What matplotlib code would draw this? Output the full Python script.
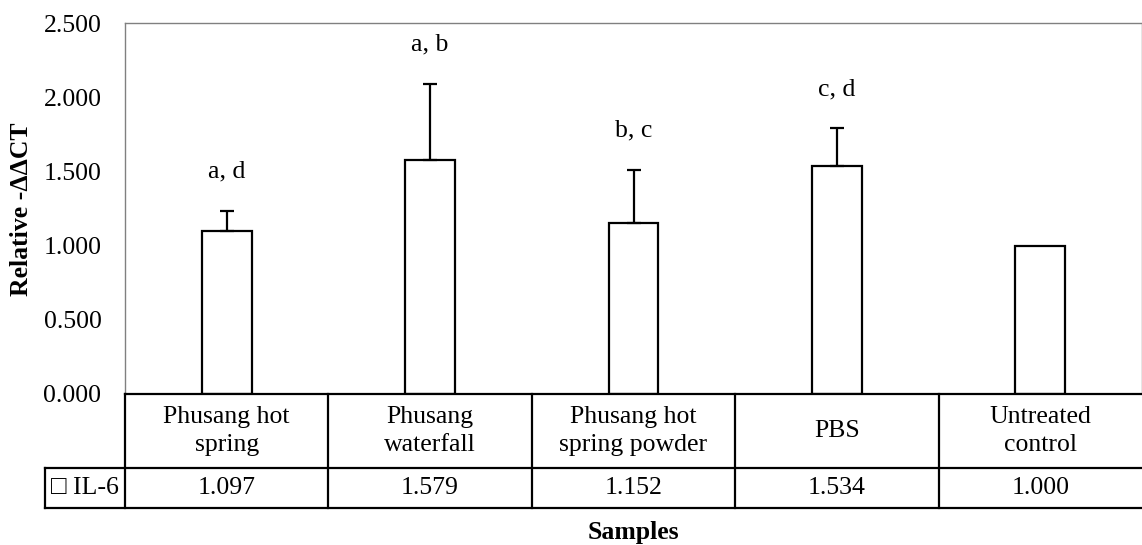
import numpy as np
import matplotlib.pyplot as plt

# data
samples = ['Phusang hot\nspring', 'Phusang\nwaterfall', 'Phusang hot\nspring powder',
           'PBS', 'Untreated\ncontrol']
il6 = [1.097, 1.579, 1.152, 1.534, 1.000]
il6_err = [0.136, 0.510, 0.357, 0.256, 0.0]
letters = ['a, d', 'a, b', 'b, c', 'c, d', '']
series_name = 'IL-6'

plt.rcParams['font.family'] = ['Liberation Serif', 'DejaVu Serif']
FS = 18.5

W, H = 1142, 545
fig = plt.figure(figsize=(W / 100, H / 100), dpi=100)


def px_axes(x0, y0, x1, y1):
    # pixel box (top-left origin) -> figure axes
    return fig.add_axes([x0 / W, 1 - y1 / H, (x1 - x0) / W, (y1 - y0) / H])


left, right, top, zero = 125, 1142, 23, 394
ax = px_axes(left, top, right, zero)
n = len(samples)
x = np.arange(n) + 0.5
ax.bar(x, il6, width=0.245, color='white', edgecolor='black', linewidth=1.6, zorder=2)
for xi, v, e in zip(x, il6, il6_err):
    if e > 0:
        ax.errorbar(xi, v, yerr=[[0], [e]], fmt='none', ecolor='black',
                    elinewidth=1.6, capsize=5, capthick=1.6, zorder=3)
for xi, v, e, t in zip(x, il6, il6_err, letters):
    if t:
        ax.text(xi, v + e + 0.265, t, ha='center', va='center', fontsize=FS)

ax.set_xlim(0, n)
ax.set_ylim(0, 2.5)
ax.set_yticks(np.arange(0, 2.51, 0.5))
ax.set_yticklabels(['%.3f' % t for t in np.arange(0, 2.51, 0.5)], fontsize=FS)
ax.tick_params(axis='y', length=0, pad=17)
ax.set_xticks([])
for s in ax.spines.values():
    s.set_color('#808080')
    s.set_linewidth(1.0)
ax.spines['bottom'].set_visible(False)
ax.set_ylabel('Relative -ΔΔCT', fontsize=FS, fontweight='bold', va='center')
ax.yaxis.set_label_coords((22 - left) / (right - left), (zero - 209) / (zero - top))

# data table under the plot
tleft, tbot, thead = 45, 508, 468
tab = px_axes(tleft, zero, right, tbot)
unit = (right - left) / n
x_start = -(left - tleft) / unit
tab.set_xlim(x_start, n)
tab.set_ylim(0, 1)
tab.axis('off')
row_split = (tbot - thead) / (tbot - zero)
lw = 1.6
kw = dict(color='black', linewidth=lw, clip_on=False, solid_capstyle='projecting')
tab.plot([0, n], [1, 1], **kw)
tab.plot([x_start, n], [row_split, row_split], **kw)
tab.plot([x_start, n], [0, 0], **kw)
tab.plot([x_start, x_start], [0, row_split], **kw)
for i in range(n):
    tab.plot([i, i], [0, 1], **kw)
for i, (name, v) in enumerate(zip(samples, il6)):
    tab.text(i + 0.5, (1 + row_split) / 2, name, ha='center', va='center',
             fontsize=FS, linespacing=1.4)
    tab.text(i + 0.5, row_split / 2, '%.3f' % v, ha='center', va='center', fontsize=FS)
tab.text(x_start / 2, row_split / 2, '\u25a1 ' + series_name, ha='center',
         va='center', fontsize=FS)

fig.text((left + right) / 2 / W, 1 - 532 / H, 'Samples', ha='center', va='center',
         fontsize=FS, fontweight='bold')

fig.savefig('out.png', dpi=100)
